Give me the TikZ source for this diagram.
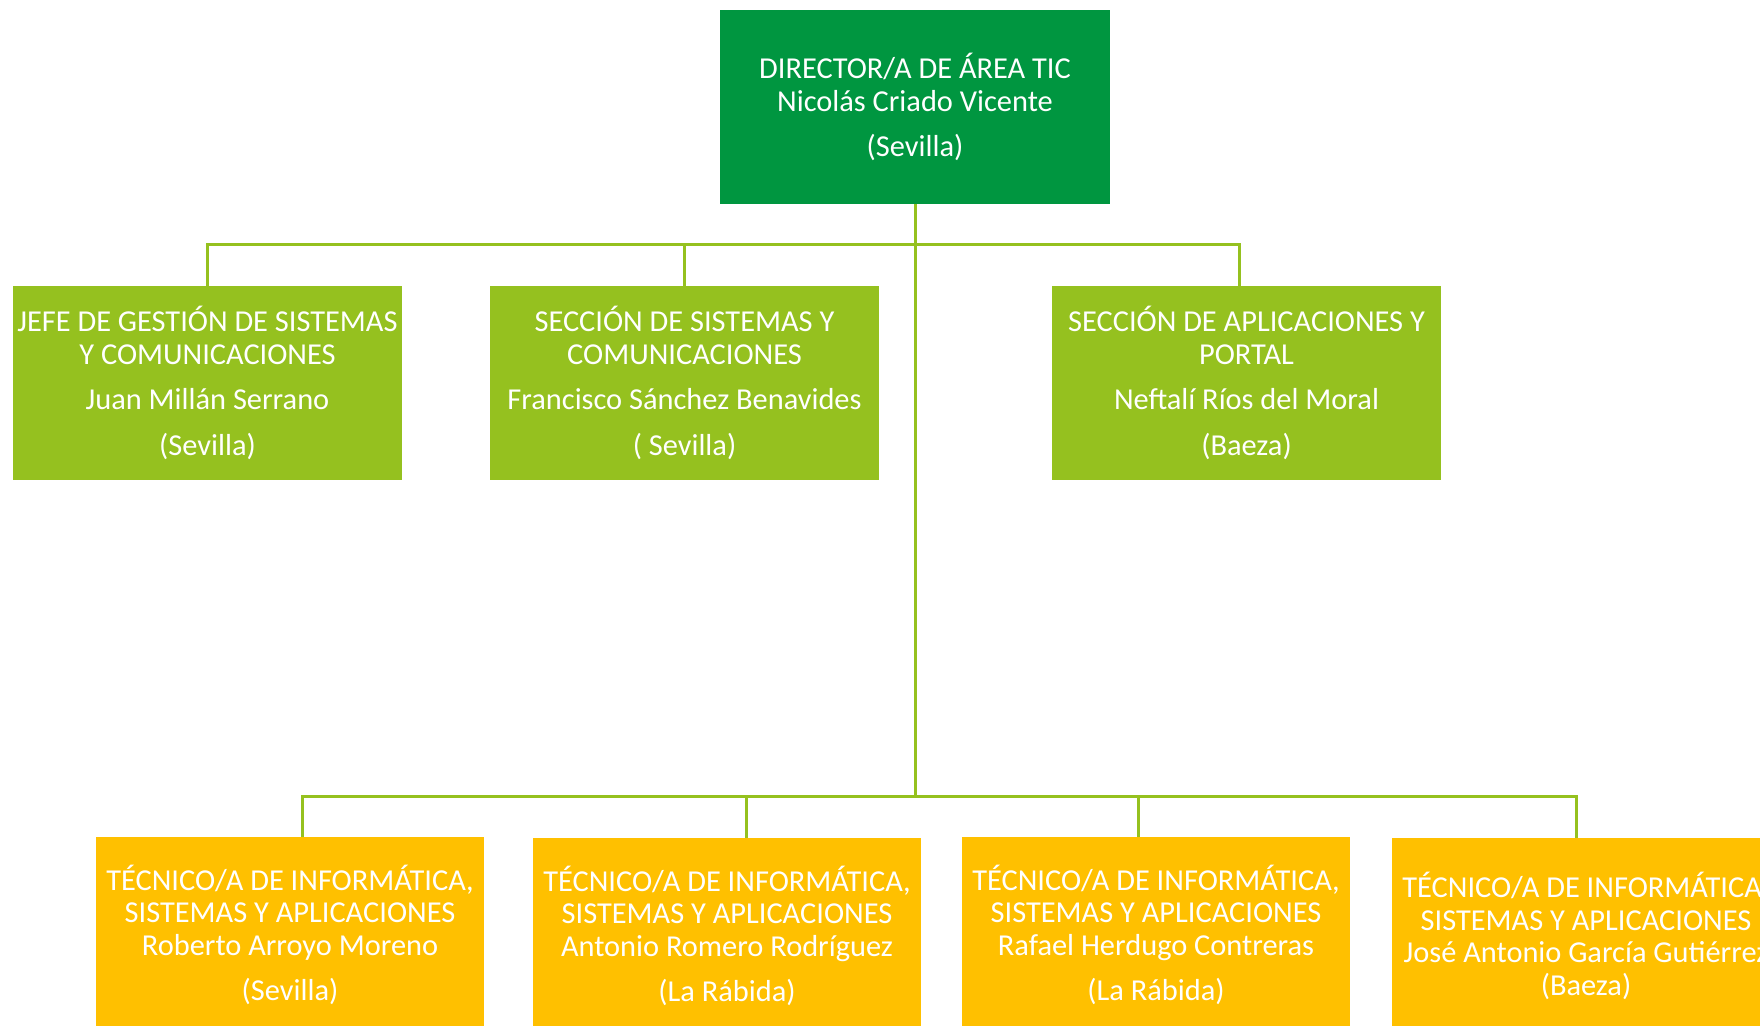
\documentclass[tikz,border=0pt]{standalone}
\usepackage{fontspec}
\setmainfont{Carlito}
\definecolor{dirgreen}{RGB}{0,150,64}
\definecolor{secgreen}{RGB}{149,193,31}
\definecolor{tecgold}{RGB}{255,192,0}
\begin{document}
\begin{tikzpicture}[x=0.5pt,y=-0.5pt,
    box/.style={inner sep=0pt,align=center,text=white,font=\fontsize{15.2}{16.25}\selectfont},
    dirbox/.style={box,fill=dirgreen,minimum width=195pt,minimum height=97pt},
    secbox/.style={box,fill=secgreen,minimum width=194.5pt,minimum height=97pt},
    tecbox/.style={box,fill=tecgold,minimum width=194pt,minimum height=98pt},
    link/.style={draw=secgreen,line width=1.5pt}]
   \useasboundingbox (0,0) rectangle (1760,1026);
   \clip (0,0) rectangle (1760,1026);
    \node[dirbox] (dir) at (915,107) {DIRECTOR/A DE ÁREA TIC\\Nicolás Criado Vicente\\[6.5pt](Sevilla)};
    \node[secbox] (s1) at (207.5,383) {JEFE DE GESTIÓN DE SISTEMAS\\Y COMUNICACIONES\\[6.5pt]Juan Millán Serrano\\[6.5pt](Sevilla)};
    \node[secbox] (s2) at (684.5,383) {SECCIÓN DE SISTEMAS Y\\COMUNICACIONES\\[6.5pt]Francisco Sánchez Benavides\\[6.5pt]( Sevilla)};
    \node[secbox] (s3) at (1246.5,383) {SECCIÓN DE APLICACIONES Y\\PORTAL\\[6.5pt]Neftalí Ríos del Moral\\[6.5pt](Baeza)};
    \node[tecbox] (t1) at (290,935) {TÉCNICO/A DE INFORMÁTICA,\\SISTEMAS Y APLICACIONES\\Roberto Arroyo Moreno\\[6.5pt](Sevilla)};
    \node[tecbox] (t2) at (727,936) {TÉCNICO/A DE INFORMÁTICA,\\SISTEMAS Y APLICACIONES\\Antonio Romero Rodríguez\\[6.5pt](La Rábida)};
    \node[tecbox] (t3) at (1156,935) {TÉCNICO/A DE INFORMÁTICA,\\SISTEMAS Y APLICACIONES\\Rafael Herdugo Contreras\\[6.5pt](La Rábida)};
    \node[tecbox] (t4) at (1586,936) {TÉCNICO/A DE INFORMÁTICA,\\SISTEMAS Y APLICACIONES\\José Antonio García Gutiérrez\\(Baeza)};
    \coordinate (top) at (915,245);
    \coordinate (bus) at (915,796);
    \draw[link] (dir.south)--(bus);
    \draw[link] (top)-|(s1.north);
    \draw[link] (top)-|(s2.north);
    \draw[link] (top)-|([xshift=-3.75pt]s3.north);
    \draw[link] (bus)-|([xshift=6pt]t1.north);
    \draw[link] (bus)-|([xshift=9.5pt]t2.north);
    \draw[link] (bus)-|([xshift=-9pt]t3.north);
    \draw[link] (bus)-|([xshift=-5pt]t4.north);
		\end{tikzpicture}
\end{document}
